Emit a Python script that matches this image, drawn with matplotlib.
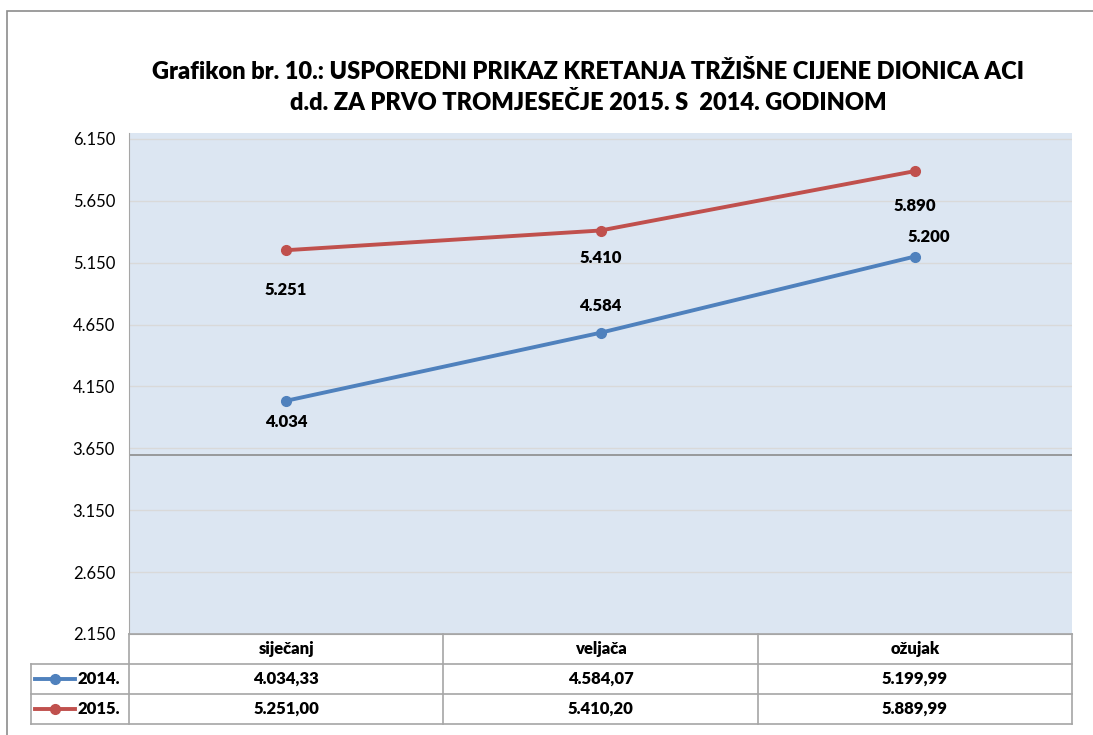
import numpy as np
import matplotlib.pyplot as plt
from matplotlib.patches import Rectangle
from matplotlib.lines import Line2D

months = ['siječanj', 'veljača', 'ožujak']
series_names = ['2014.', '2015.']
values_2014 = [4034.33, 4584.07, 5199.99]
values_2015 = [5251.00, 5410.20, 5889.99]
y_ticks = [2150, 2650, 3150, 3650, 4150, 4650, 5150, 5650, 6150]

title = ('Grafikon br. 10.: USPOREDNI PRIKAZ KRETANJA TRŽIŠNE CIJENE DIONICA ACI\n'
         'd.d. ZA PRVO TROMJESEČJE 2015. S  2014. GODINOM')

blue = '#4F81BD'
red = '#C0504D'
grid_col = '#D9D9D9'
border_col = '#A6A6A6'
bold = 'heavy'

plt.rcParams['font.family'] = ['Lato', 'DejaVu Sans']

W, H = 1093, 735
fig = plt.figure(figsize=(W / 100, H / 100), dpi=100)


def fx(px):
    return px / W


def fy(py):
    return 1 - py / H


# outer chart border
fig.add_artist(Rectangle((fx(7), fy(740)), fx(1100 - 7), (740 - 11) / H,
                         transform=fig.transFigure, fill=False,
                         edgecolor='#8C8C8C', linewidth=1.2, clip_on=False))

left, right, top, bottom = 129, 1072, 133, 634
ax = fig.add_axes([fx(left), fy(bottom), fx(right - left), (bottom - top) / H])
ax.set_facecolor('#DCE6F2')
x = np.arange(len(months))
ax.set_xlim(-0.5, len(months) - 0.5)
ax.set_ylim(2150, 6198)
ax.set_yticks(y_ticks)
ax.set_yticklabels(['{:,}'.format(v).replace(',', '.') for v in y_ticks], fontsize=12)
ax.set_xticks([])
ax.tick_params(axis='y', length=0, pad=10)
for v in y_ticks:
    ax.axhline(v, color=grid_col, linewidth=1, zorder=1)
ax.axhline(3600, color='#8C8C8C', linewidth=1.2, zorder=1)
for s in ['top', 'right']:
    ax.spines[s].set_visible(False)
ax.spines['left'].set_color(border_col)
ax.spines['bottom'].set_color(border_col)

ax.plot(x, values_2014, color=blue, linewidth=2.8, marker='o', markersize=7, zorder=3)
ax.plot(x, values_2015, color=red, linewidth=2.8, marker='o', markersize=7, zorder=3)


def fmt_int(v):
    return '{:,}'.format(int(round(v))).replace(',', '.')


# data labels (offsets in points)
offs_2014 = [(0, -15), (0, 19), (10, 14)]
offs_2015 = [(0, -29), (0, -20), (0, -25)]
for i, v in enumerate(values_2014):
    ax.annotate(fmt_int(v), (x[i], v), xytext=offs_2014[i], textcoords='offset points',
                ha='center', va='center', fontsize=12, fontweight=bold)
for i, v in enumerate(values_2015):
    ax.annotate(fmt_int(v), (x[i], v), xytext=offs_2015[i], textcoords='offset points',
                ha='center', va='center', fontsize=12, fontweight=bold)

fig.text(fx(588), fy(87), title, ha='center', va='center', fontsize=17,
         fontweight=bold, linespacing=1.4)

# data table below the chart
t_left, t_top, t_bottom = 31, 634, 724
tax = fig.add_axes([fx(t_left), fy(t_bottom), fx(right - t_left), (t_bottom - t_top) / H])
unit = (right - left) / len(months)
tax.set_xlim(-0.5 - (left - t_left) / unit, len(months) - 0.5)
tax.set_ylim(3, 0)
tax.axis('off')
lw = 1.2
xl = tax.get_xlim()[0]
tax.plot([-0.5, len(months) - 0.5], [0, 0], color=border_col, lw=lw, clip_on=False)
for r in [1, 2, 3]:
    tax.plot([xl, len(months) - 0.5], [r, r], color=border_col, lw=lw, clip_on=False)
tax.plot([xl, xl], [1, 3], color=border_col, lw=lw, clip_on=False)
for c in range(len(months) + 1):
    tax.plot([c - 0.5, c - 0.5], [0, 3], color=border_col, lw=lw, clip_on=False)

for i, m in enumerate(months):
    tax.text(i, 0.5, m, ha='center', va='center', fontsize=12, fontweight=bold)


def fmt_dec(v):
    s = '{:,.2f}'.format(v)
    return s.replace(',', 'X').replace('.', ',').replace('X', '.')


for r, (vals, col, name) in enumerate([(values_2014, blue, series_names[0]),
                                       (values_2015, red, series_names[1])]):
    for i, v in enumerate(vals):
        tax.text(i, r + 1.5, fmt_dec(v), ha='center', va='center', fontsize=12,
                 fontweight=bold)
    lx0 = xl + 4 / unit
    lx1 = xl + 44 / unit
    tax.add_line(Line2D([lx0, lx1], [r + 1.5, r + 1.5], color=col, lw=2.8,
                        clip_on=False))
    tax.plot([(lx0 + lx1) / 2], [r + 1.5], marker='o', color=col, markersize=7,
             clip_on=False)
    tax.text(xl + 47 / unit, r + 1.5, name, ha='left', va='center', fontsize=12,
             fontweight=bold)

fig.savefig('out.png', dpi=100)
